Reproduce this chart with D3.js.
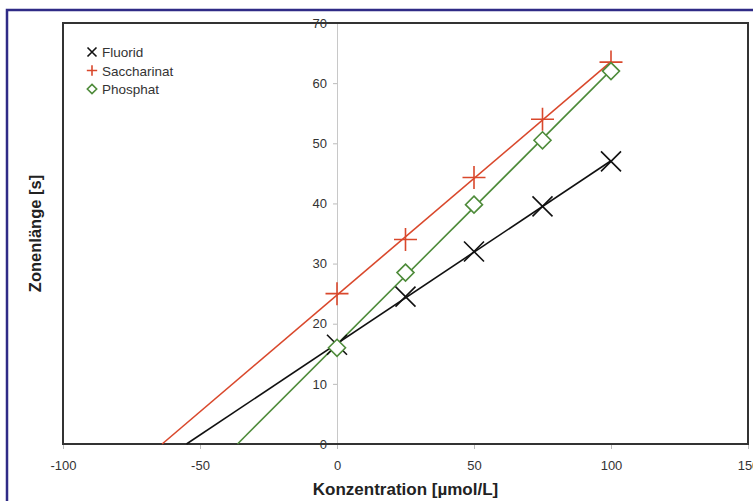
<!DOCTYPE html>
<html>
<head>
<meta charset="utf-8">
<script src="https://cdn.jsdelivr.net/npm/d3@7"></script>
<style>
  body { margin: 0; background: #fff; }
  svg { display: block; font-family: "Liberation Sans", Arial, sans-serif; }
</style>
</head>
<body>
<script>
// concentrations (x) and zone lengths (y)
var conc = [0, 25, 50, 75, 100];
var fluorid = [16.5, 24.5, 32, 39.5, 47];
var saccharinat = [25, 34, 44.3, 54, 63.5];
var phosphat = [16, 28.5, 39.8, 50.5, 62];

var xTicks = [-100, -50, 0, 50, 100, 150];
var yTicks = [0, 10, 20, 30, 40, 50, 60, 70];

var series = [
  { name: "Fluorid", values: fluorid, color: "#111", symbol: "x" },
  { name: "Saccharinat", values: saccharinat, color: "#d9482c", symbol: "plus" },
  { name: "Phosphat", values: phosphat, color: "#4e8b3a", symbol: "diamond" }
];

var width = 753, height = 501;
var plotLeft = 63, plotRight = 748, plotTop = 23, plotBottom = 444;

var svg = d3.select("body").append("svg")
  .attr("width", width)
  .attr("height", height);

// outer navy frame
svg.append("rect")
  .attr("x", 7).attr("y", 10)
  .attr("width", 760).attr("height", 520)
  .attr("fill", "none")
  .attr("stroke", "#2f2b86")
  .attr("stroke-width", 2.5);

var x = d3.scaleLinear().domain([-100, 150]).range([plotLeft, plotRight]);
var y = d3.scaleLinear().domain([0, 70]).range([plotBottom, plotTop]);

// y axis sits at x = 0
var yAxis = svg.append("g")
  .attr("transform", "translate(" + x(0) + ",0)")
  .call(d3.axisLeft(y).tickValues(yTicks).tickFormat(String).tickSize(4).tickPadding(6));
yAxis.select(".domain").attr("stroke", "#c8c8c8");
yAxis.selectAll(".tick line").attr("stroke", "#bbb");
yAxis.selectAll("text").attr("fill", "#333").style("font-size", "13px");

// x axis along bottom
var xAxis = svg.append("g")
  .attr("transform", "translate(0," + plotBottom + ")")
  .call(d3.axisBottom(x).tickValues(xTicks).tickFormat(String).tickSize(5).tickPadding(12));
xAxis.select(".domain").remove();
xAxis.selectAll(".tick line").attr("stroke", "#bbb");
xAxis.selectAll("text").attr("fill", "#333").style("font-size", "13px");

// plot frame
svg.append("rect")
  .attr("x", plotLeft).attr("y", plotTop)
  .attr("width", plotRight - plotLeft).attr("height", plotBottom - plotTop)
  .attr("fill", "none")
  .attr("stroke", "#333")
  .attr("stroke-width", 2);

// least squares fit, drawn from the x intercept to the last point
function fit(vals) {
  var mx = d3.mean(conc), my = d3.mean(vals);
  var num = d3.sum(conc, function(c, i) { return (c - mx) * (vals[i] - my); });
  var den = d3.sum(conc, function(c) { return (c - mx) * (c - mx); });
  var b = num / den, a = my - b * mx;
  return { a: a, b: b };
}

function marker(sel, symbol, r, color, sw) {
  if (symbol === "x") {
    sel.append("path")
      .attr("d", "M" + (-r) + "," + (-r) + "L" + r + "," + r + "M" + (-r) + "," + r + "L" + r + "," + (-r))
      .attr("stroke", color).attr("stroke-width", sw).attr("fill", "none");
  } else if (symbol === "plus") {
    var p = r * 1.15;
    sel.append("path")
      .attr("d", "M" + (-p) + ",0L" + p + ",0M0," + (-p) + "L0," + p)
      .attr("stroke", color).attr("stroke-width", sw).attr("fill", "none");
  } else {
    var d = r * 0.85;
    sel.append("path")
      .attr("d", "M0," + (-d) + "L" + d + ",0L0," + d + "L" + (-d) + ",0Z")
      .attr("stroke", color).attr("stroke-width", sw).attr("fill", "#fff");
  }
}

var line = d3.line().x(function(d) { return x(d[0]); }).y(function(d) { return y(d[1]); });

series.forEach(function(s) {
  var f = fit(s.values);
  var x0 = -f.a / f.b;
  svg.append("path")
    .datum([[x0, 0], [100, f.a + f.b * 100]])
    .attr("d", line)
    .attr("fill", "none")
    .attr("stroke", s.color)
    .attr("stroke-width", 1.6);
});

series.forEach(function(s) {
  conc.forEach(function(c, i) {
    var g = svg.append("g").attr("transform", "translate(" + x(c) + "," + y(s.values[i]) + ")");
    marker(g, s.symbol, 10, s.color, 1.6);
  });
});

// legend
var legend = svg.append("g").attr("transform", "translate(92,52)");
series.forEach(function(s, i) {
  var g = legend.append("g").attr("transform", "translate(0," + (i * 18.5) + ")");
  marker(g.append("g"), s.symbol, s.symbol === "diamond" ? 5.5 : 4.5, s.color, 1.6);
  g.append("text")
    .attr("x", 10).attr("y", 5)
    .attr("fill", "#333")
    .style("font-size", "13.5px")
    .text(s.name);
});

// axis titles
svg.append("text")
  .attr("x", (plotLeft + plotRight) / 2).attr("y", 495)
  .attr("text-anchor", "middle")
  .style("font-size", "17px").style("font-weight", "bold")
  .attr("fill", "#222")
  .text("Konzentration [µmol/L]");

svg.append("text")
  .attr("transform", "translate(41," + ((plotTop + plotBottom) / 2) + ") rotate(-90)")
  .attr("text-anchor", "middle")
  .style("font-size", "16.5px").style("font-weight", "bold")
  .attr("fill", "#222")
  .text("Zonenlänge [s]");
</script>
</body>
</html>
